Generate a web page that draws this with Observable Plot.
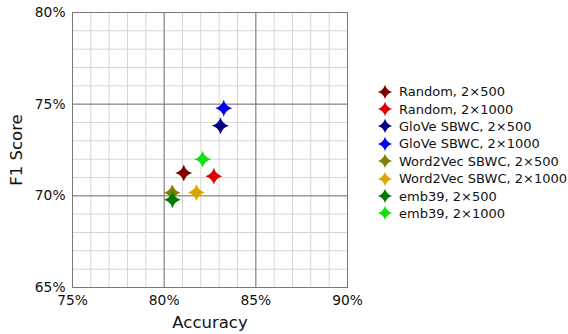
<!DOCTYPE html>
<html>
<head>
<meta charset="utf-8">
<script src="https://cdn.jsdelivr.net/npm/d3@7"></script>
<script src="https://cdn.jsdelivr.net/npm/@observablehq/plot@0.6"></script>
<style>
  html, body { margin: 0; padding: 0; background: #fff; }
  #wrap { position: relative; width: 568px; height: 334px; font-family: "DejaVu Sans", sans-serif; }
  #legend { position: absolute; left: 377px; top: 83px; font-size: 13px; color: #111; }
  .row { display: flex; align-items: center; height: 17.4px; white-space: nowrap; }
  .row svg { margin-right: 6px; }
  #wrap svg g[aria-label="x-axis tick label"] text,
  #wrap svg g[aria-label="y-axis tick label"] text { font-size: 13.8px; fill: #111; }
  #wrap svg g[aria-label="x-axis label"] text,
  #wrap svg g[aria-label="y-axis label"] text { font-size: 16.5px; fill: #111; }
</style>
</head>
<body>
<div id="wrap"></div>
<script>
const models = ["Random, 2×500", "Random, 2×1000", "GloVe SBWC, 2×500", "GloVe SBWC, 2×1000",
                "Word2Vec SBWC, 2×500", "Word2Vec SBWC, 2×1000", "emb39, 2×500", "emb39, 2×1000"];
const accuracy = [81.07, 82.71, 83.07, 83.25, 80.44, 81.76, 80.45, 82.1];
const f1 = [71.24, 71.07, 73.82, 74.78, 70.17, 70.18, 69.78, 72.0];
const colors = ["#800000", "#e00000", "#000080", "#0000ee", "#808000", "#d8a800", "#007a00", "#10e010"];
const xTicks = [75, 80, 85, 90];
const yTicks = [65, 70, 75, 80];

const data = models.map((m, i) => ({model: m, x: accuracy[i], y: f1[i], color: colors[i]}));

function starPath(r) {
  const k = r * 0.22;
  return `M0,${-r}Q${k},${-k} ${r},0Q${k},${k} 0,${r}Q${-k},${k} ${-r},0Q${-k},${-k} 0,${-r}Z`;
}
const star = {
  draw(context, size) {
    const r = Math.sqrt(size / Math.PI);
    const k = r * 0.22;
    context.moveTo(0, -r);
    context.quadraticCurveTo(k, -k, r, 0);
    context.quadraticCurveTo(k, k, 0, r);
    context.quadraticCurveTo(-k, k, -r, 0);
    context.quadraticCurveTo(-k, -k, 0, -r);
    context.closePath();
  }
};

const minor = d3.range(75, 91, 1);
const minorY = d3.range(65, 81, 1);

const chart = Plot.plot({
  width: 568,
  height: 334,
  marginLeft: 72,
  marginRight: 221,
  marginTop: 12,
  marginBottom: 47,
  style: {fontFamily: "DejaVu Sans, sans-serif", fontSize: "13px", color: "#111", background: "#fff"},
  x: {domain: [75, 90]},
  y: {domain: [65, 80]},
  marks: [
    Plot.ruleX(minor, {stroke: "#d6d6d6", strokeWidth: 1}),
    Plot.ruleY(minorY, {stroke: "#d6d6d6", strokeWidth: 1}),
    Plot.ruleX([80, 85], {stroke: "#7a7a7a", strokeWidth: 1}),
    Plot.ruleY([70, 75], {stroke: "#7a7a7a", strokeWidth: 1}),
    Plot.frame({stroke: "#777"}),
    Plot.axisX({ticks: xTicks, tickSize: 0, tickPadding: 8, tickFormat: d => d + "%",
                label: "Accuracy", labelAnchor: "center", labelArrow: "none", labelOffset: 40}),
    Plot.axisY({ticks: yTicks, tickSize: 0, tickPadding: 7, tickFormat: d => d + "%",
                label: "F1 Score", labelAnchor: "center", labelArrow: "none", labelOffset: 62}),
    Plot.dot(data, {x: "x", y: "y", fill: d => d.color, stroke: "none", symbol: star, r: 8.5})
  ]
});
const wrap = document.getElementById("wrap");
wrap.appendChild(chart);

const legend = document.createElement("div");
legend.id = "legend";
models.forEach((m, i) => {
  const row = document.createElement("div");
  row.className = "row";
  row.innerHTML = `<svg width="16" height="16" viewBox="-8 -8 16 16"><path d="${starPath(7.2)}" fill="${colors[i]}"/></svg><span>${m}</span>`;
  legend.appendChild(row);
});
wrap.appendChild(legend);
</script>
</body>
</html>
